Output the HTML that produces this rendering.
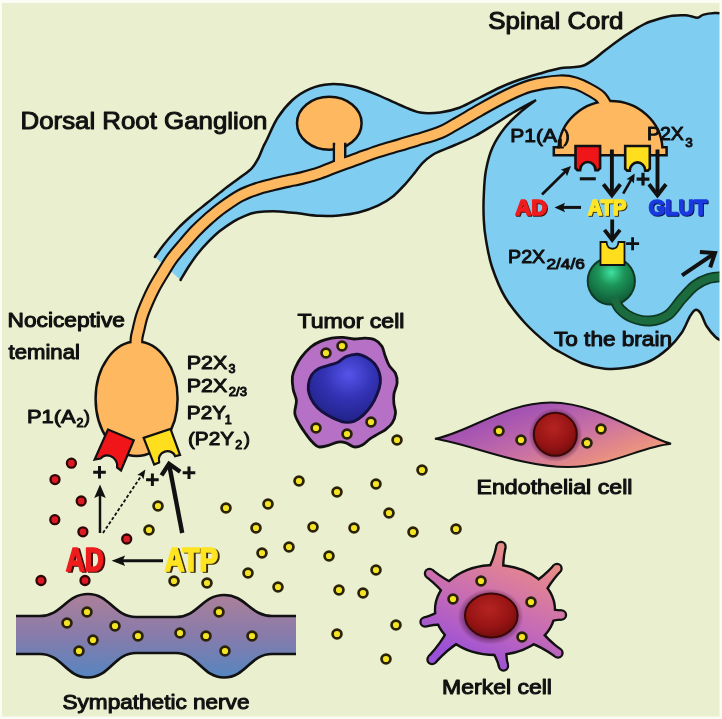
<!DOCTYPE html>
<html><head><meta charset="utf-8"><title>Purinergic signalling in pain</title>
<style>
html,body{margin:0;padding:0;background:#fbfcf3;}
body{width:722px;height:719px;overflow:hidden;position:relative;font-family:"Liberation Sans",Arial,sans-serif;}
svg{position:absolute;left:0;top:0;display:block;filter:blur(0.55px);}
</style></head><body>
<svg width="722" height="719" viewBox="0 0 722 719">
<rect x="0" y="0" width="722" height="719" fill="#e9efcf"/>
<path d="M722.0,13.5 C720.8,13.4 717.9,12.8 714.8,13.0 C711.7,13.2 706.5,13.8 703.6,14.6 C700.7,15.4 699.6,17.5 697.5,17.8 C695.4,18.1 693.0,16.6 691.0,16.2 C689.0,15.8 688.7,15.4 685.6,15.3 C682.5,15.2 676.7,15.1 672.2,15.7 C667.7,16.3 663.2,17.7 658.7,19.0 C654.2,20.3 649.8,21.5 645.3,23.6 C640.8,25.7 636.3,28.6 631.8,31.4 C627.3,34.2 622.8,37.2 618.3,40.4 C613.8,43.6 609.0,47.3 604.9,50.5 C600.8,53.7 597.4,57.0 593.7,59.5 C590.1,62.0 586.6,64.5 583.0,65.8 C579.4,67.1 575.8,66.9 572.0,67.3 C568.2,67.7 565.3,67.3 560.0,68.3 C554.7,69.3 546.7,71.6 540.0,73.5 C533.3,75.4 526.7,77.2 520.0,79.5 C513.3,81.8 506.7,84.5 500.0,87.5 C493.3,90.5 486.7,94.2 480.0,97.5 C473.3,100.8 466.7,105.0 460.0,107.5 C453.3,110.0 446.7,111.7 440.0,112.5 C433.3,113.3 426.7,113.8 420.0,112.5 C413.3,111.2 407.5,108.1 400.0,105.0 C392.5,101.9 382.9,96.9 375.0,93.8 C367.1,90.6 360.0,87.8 352.5,86.2 C345.0,84.7 337.1,83.8 330.0,84.2 C322.9,84.7 316.2,86.1 310.0,88.8 C303.8,91.4 297.9,95.1 292.5,100.0 C287.1,104.9 281.8,111.3 277.5,118.0 C273.2,124.7 269.1,135.2 266.7,140.0 C264.3,144.8 264.7,143.6 263.3,146.7 C261.9,149.8 260.2,154.7 258.3,158.3 C256.4,161.9 254.8,165.1 251.7,168.3 C248.6,171.5 244.7,173.9 240.0,177.5 C235.3,181.1 228.9,185.7 223.3,190.0 C217.8,194.3 212.0,199.1 206.7,203.3 C201.4,207.6 196.5,211.3 191.7,215.5 C186.9,219.7 182.4,223.7 177.8,228.5 C173.2,233.3 167.7,239.8 163.9,244.5 C160.1,249.2 156.4,254.9 154.9,257.0 L180.6,280.0 C181.8,278.0 184.8,272.5 187.6,268.2 C190.4,263.9 193.8,258.6 197.3,254.2 C200.8,249.8 204.7,245.5 208.4,241.7 C212.1,237.9 215.3,234.7 219.5,231.3 C223.7,228.0 229.2,224.2 233.4,221.6 C237.7,219.0 241.1,217.4 245.0,215.8 C248.9,214.2 252.0,213.1 256.7,212.3 C261.4,211.6 267.8,211.3 273.3,211.3 C278.9,211.3 285.6,212.1 290.0,212.5 C294.4,212.9 295.1,212.9 300.0,213.5 C304.9,214.1 313.0,215.5 319.5,215.8 C326.0,216.1 332.4,216.0 338.9,215.4 C345.4,214.8 351.9,214.1 358.4,212.5 C364.9,210.9 372.0,208.5 377.9,205.7 C383.8,202.9 389.0,199.5 393.5,195.9 C398.0,192.3 401.5,188.2 405.1,184.3 C408.7,180.4 412.0,176.2 414.9,172.6 C417.8,169.0 419.8,165.7 422.7,162.8 C425.6,159.9 429.5,156.9 432.4,155.0 C435.3,153.1 436.2,152.9 440.0,151.2 C443.8,149.5 449.2,147.5 455.0,145.0 C460.8,142.5 468.3,139.5 475.0,136.0 C481.7,132.5 488.3,128.1 495.0,124.0 C501.7,119.9 508.2,115.5 515.0,111.5 C521.8,107.5 532.5,101.9 536.0,100.0 C533.3,102.1 525.2,107.9 520.0,112.5 C514.8,117.1 509.6,121.7 505.0,127.5 C500.4,133.3 495.7,140.4 492.5,147.5 C489.3,154.6 487.5,162.1 486.0,170.0 C484.5,177.9 484.1,186.7 483.8,195.0 C483.4,203.3 483.4,212.5 483.8,220.0 C484.1,227.5 484.6,232.2 486.0,240.0 C487.4,247.8 488.8,257.5 492.0,267.0 C495.2,276.5 499.5,287.7 505.0,297.0 C510.5,306.3 517.7,315.0 525.0,323.0 C532.3,331.0 543.2,340.2 549.0,345.0 C554.8,349.8 554.4,348.9 560.0,352.0 C565.6,355.1 575.0,360.7 582.5,363.5 C590.0,366.3 597.5,368.0 605.0,368.7 C612.5,369.4 620.1,368.9 627.6,367.6 C635.1,366.3 643.3,364.2 650.0,361.0 C656.7,357.8 662.7,353.2 668.0,348.5 C673.3,343.8 678.1,337.9 681.7,332.7 C685.3,327.4 687.4,320.8 689.6,317.0 C691.9,313.2 693.3,310.6 695.2,310.0 C697.1,309.4 698.9,310.8 700.8,313.5 C702.7,316.2 704.0,322.1 706.5,326.0 C709.0,329.9 712.9,334.5 715.5,337.0 C718.1,339.5 720.9,340.3 722.0,341.0 L722,13 Z" fill="#80cdf2"/>
<path d="M722.0,13.5 C720.8,13.4 717.9,12.8 714.8,13.0 C711.7,13.2 706.5,13.8 703.6,14.6 C700.7,15.4 699.6,17.5 697.5,17.8 C695.4,18.1 693.0,16.6 691.0,16.2 C689.0,15.8 688.7,15.4 685.6,15.3 C682.5,15.2 676.7,15.1 672.2,15.7 C667.7,16.3 663.2,17.7 658.7,19.0 C654.2,20.3 649.8,21.5 645.3,23.6 C640.8,25.7 636.3,28.6 631.8,31.4 C627.3,34.2 622.8,37.2 618.3,40.4 C613.8,43.6 609.0,47.3 604.9,50.5 C600.8,53.7 597.4,57.0 593.7,59.5 C590.1,62.0 586.6,64.5 583.0,65.8 C579.4,67.1 575.8,66.9 572.0,67.3 C568.2,67.7 565.3,67.3 560.0,68.3 C554.7,69.3 546.7,71.6 540.0,73.5 C533.3,75.4 526.7,77.2 520.0,79.5 C513.3,81.8 506.7,84.5 500.0,87.5 C493.3,90.5 486.7,94.2 480.0,97.5 C473.3,100.8 466.7,105.0 460.0,107.5 C453.3,110.0 446.7,111.7 440.0,112.5 C433.3,113.3 426.7,113.8 420.0,112.5 C413.3,111.2 407.5,108.1 400.0,105.0 C392.5,101.9 382.9,96.9 375.0,93.8 C367.1,90.6 360.0,87.8 352.5,86.2 C345.0,84.7 337.1,83.8 330.0,84.2 C322.9,84.7 316.2,86.1 310.0,88.8 C303.8,91.4 297.9,95.1 292.5,100.0 C287.1,104.9 281.8,111.3 277.5,118.0 C273.2,124.7 269.1,135.2 266.7,140.0 C264.3,144.8 264.7,143.6 263.3,146.7 C261.9,149.8 260.2,154.7 258.3,158.3 C256.4,161.9 254.8,165.1 251.7,168.3 C248.6,171.5 244.7,173.9 240.0,177.5 C235.3,181.1 228.9,185.7 223.3,190.0 C217.8,194.3 212.0,199.1 206.7,203.3 C201.4,207.6 196.5,211.3 191.7,215.5 C186.9,219.7 182.4,223.7 177.8,228.5 C173.2,233.3 167.7,239.8 163.9,244.5 C160.1,249.2 156.4,254.9 154.9,257.0 M180.6,280.0 C181.8,278.0 184.8,272.5 187.6,268.2 C190.4,263.9 193.8,258.6 197.3,254.2 C200.8,249.8 204.7,245.5 208.4,241.7 C212.1,237.9 215.3,234.7 219.5,231.3 C223.7,228.0 229.2,224.2 233.4,221.6 C237.7,219.0 241.1,217.4 245.0,215.8 C248.9,214.2 252.0,213.1 256.7,212.3 C261.4,211.6 267.8,211.3 273.3,211.3 C278.9,211.3 285.6,212.1 290.0,212.5 C294.4,212.9 295.1,212.9 300.0,213.5 C304.9,214.1 313.0,215.5 319.5,215.8 C326.0,216.1 332.4,216.0 338.9,215.4 C345.4,214.8 351.9,214.1 358.4,212.5 C364.9,210.9 372.0,208.5 377.9,205.7 C383.8,202.9 389.0,199.5 393.5,195.9 C398.0,192.3 401.5,188.2 405.1,184.3 C408.7,180.4 412.0,176.2 414.9,172.6 C417.8,169.0 419.8,165.7 422.7,162.8 C425.6,159.9 429.5,156.9 432.4,155.0 C435.3,153.1 436.2,152.9 440.0,151.2 C443.8,149.5 449.2,147.5 455.0,145.0 C460.8,142.5 468.3,139.5 475.0,136.0 C481.7,132.5 488.3,128.1 495.0,124.0 C501.7,119.9 508.2,115.5 515.0,111.5 C521.8,107.5 532.5,101.9 536.0,100.0 C533.3,102.1 525.2,107.9 520.0,112.5 C514.8,117.1 509.6,121.7 505.0,127.5 C500.4,133.3 495.7,140.4 492.5,147.5 C489.3,154.6 487.5,162.1 486.0,170.0 C484.5,177.9 484.1,186.7 483.8,195.0 C483.4,203.3 483.4,212.5 483.8,220.0 C484.1,227.5 484.6,232.2 486.0,240.0 C487.4,247.8 488.8,257.5 492.0,267.0 C495.2,276.5 499.5,287.7 505.0,297.0 C510.5,306.3 517.7,315.0 525.0,323.0 C532.3,331.0 543.2,340.2 549.0,345.0 C554.8,349.8 554.4,348.9 560.0,352.0 C565.6,355.1 575.0,360.7 582.5,363.5 C590.0,366.3 597.5,368.0 605.0,368.7 C612.5,369.4 620.1,368.9 627.6,367.6 C635.1,366.3 643.3,364.2 650.0,361.0 C656.7,357.8 662.7,353.2 668.0,348.5 C673.3,343.8 678.1,337.9 681.7,332.7 C685.3,327.4 687.4,320.8 689.6,317.0 C691.9,313.2 693.3,310.6 695.2,310.0 C697.1,309.4 698.9,310.8 700.8,313.5 C702.7,316.2 704.0,322.1 706.5,326.0 C709.0,329.9 712.9,334.5 715.5,337.0 C718.1,339.5 720.9,340.3 722.0,341.0" fill="none" stroke="#111" stroke-width="2.5" stroke-linejoin="miter" stroke-linecap="round"/>
<path d="M136.5,352.0 C136.5,349.8 136.2,342.8 136.5,339.0 C136.8,335.2 137.6,333.4 138.5,329.5 C139.4,325.6 140.5,320.2 142.0,315.6 C143.5,311.0 145.5,306.3 147.5,301.7 C149.5,297.1 151.5,292.7 154.0,288.0 C156.5,283.3 159.5,278.4 162.5,273.5 C165.5,268.6 168.3,263.6 172.0,258.5 C175.7,253.4 180.8,247.8 184.8,243.1 C188.8,238.4 192.0,234.6 195.9,230.6 C199.8,226.6 204.0,222.7 208.4,218.8 C212.8,215.0 217.0,211.3 222.3,207.5 C227.6,203.7 234.3,198.9 240.0,195.8 C245.7,192.7 251.1,190.8 256.7,188.9 C262.2,187.0 267.8,185.8 273.3,184.4 C278.9,183.0 285.6,181.5 290.0,180.5 C294.4,179.5 295.1,179.8 300.0,178.5 C304.9,177.2 313.0,175.2 319.5,173.0 C326.0,170.8 332.4,167.9 338.9,165.5 C345.4,163.1 351.9,160.7 358.4,158.4 C364.9,156.1 371.4,153.6 377.9,151.5 C384.4,149.4 390.9,147.6 397.4,145.7 C403.9,143.8 409.7,142.1 416.8,139.9 C423.9,137.7 433.6,135.1 440.0,132.5 C446.4,129.9 448.3,128.2 455.0,124.5 C461.7,120.8 471.7,114.7 480.0,110.0 C488.3,105.3 496.7,100.5 505.0,96.5 C513.3,92.5 520.8,88.5 530.0,86.0 C539.2,83.5 552.3,81.7 560.0,81.3 C567.7,80.9 571.0,82.0 576.0,83.5 C581.0,85.0 585.9,87.8 590.0,90.0 C594.1,92.2 597.7,94.2 600.5,97.0 C603.3,99.8 605.9,105.3 607.0,107.0" fill="none" stroke="#111" stroke-width="13.8"/>
<ellipse cx="329.3" cy="123.3" rx="32.3" ry="26.5" fill="#fdb860" stroke="#111" stroke-width="2.5"/>
<rect x="334" y="144" width="11.2" height="20" fill="#fdb860" stroke="#111" stroke-width="2.5"/>
<path d="M553.8,147.2 L558.6,147.2 A52,49.2 0 0 1 662.4,147.2 L666.6,147.2 L666.6,155.2 L553.8,155.2 Z" fill="#fdb860" stroke="#111" stroke-width="2.5" stroke-linejoin="miter"/>
<ellipse cx="136.6" cy="398.8" rx="41" ry="57.2" fill="#fdb860" stroke="#111" stroke-width="2.5"/>
<path d="M136.5,352.0 C136.5,349.8 136.2,342.8 136.5,339.0 C136.8,335.2 137.6,333.4 138.5,329.5 C139.4,325.6 140.5,320.2 142.0,315.6 C143.5,311.0 145.5,306.3 147.5,301.7 C149.5,297.1 151.5,292.7 154.0,288.0 C156.5,283.3 159.5,278.4 162.5,273.5 C165.5,268.6 168.3,263.6 172.0,258.5 C175.7,253.4 180.8,247.8 184.8,243.1 C188.8,238.4 192.0,234.6 195.9,230.6 C199.8,226.6 204.0,222.7 208.4,218.8 C212.8,215.0 217.0,211.3 222.3,207.5 C227.6,203.7 234.3,198.9 240.0,195.8 C245.7,192.7 251.1,190.8 256.7,188.9 C262.2,187.0 267.8,185.8 273.3,184.4 C278.9,183.0 285.6,181.5 290.0,180.5 C294.4,179.5 295.1,179.8 300.0,178.5 C304.9,177.2 313.0,175.2 319.5,173.0 C326.0,170.8 332.4,167.9 338.9,165.5 C345.4,163.1 351.9,160.7 358.4,158.4 C364.9,156.1 371.4,153.6 377.9,151.5 C384.4,149.4 390.9,147.6 397.4,145.7 C403.9,143.8 409.7,142.1 416.8,139.9 C423.9,137.7 433.6,135.1 440.0,132.5 C446.4,129.9 448.3,128.2 455.0,124.5 C461.7,120.8 471.7,114.7 480.0,110.0 C488.3,105.3 496.7,100.5 505.0,96.5 C513.3,92.5 520.8,88.5 530.0,86.0 C539.2,83.5 552.3,81.7 560.0,81.3 C567.7,80.9 571.0,82.0 576.0,83.5 C581.0,85.0 585.9,87.8 590.0,90.0 C594.1,92.2 597.7,94.2 600.5,97.0 C603.3,99.8 605.9,105.3 607.0,107.0" fill="none" stroke="#fdb860" stroke-width="9.5"/>
<rect x="335.2" y="142" width="8.8" height="26" fill="#fdb860"/>
<path d="M0,0 L24.6,0 L24.6,22.2 L22.6,24.2 L20,24.2 A7.7,8.2 0 0 0 4.6,24.2 L2,24.2 L0,22.2 Z" fill="#f01519" stroke="#111" stroke-width="2.6" stroke-linejoin="miter" transform="translate(575.5,146)"/>
<path d="M0,0 L24.6,0 L24.6,22.6 L22.6,24.6 L20,24.6 A7.7,8.2 0 0 0 4.6,24.6 L2,24.6 L0,22.6 Z" fill="#ffde1e" stroke="#111" stroke-width="2.6" stroke-linejoin="miter" transform="translate(625.2,146)"/>
<path d="M0,0 L28,0 L27.7,32.8 L23,31.6 C22.3,27.5 18,23.4 12.4,23.5 C8,23.6 5.2,26.2 4.2,29.6 L-0.9,32.7 Z" fill="#f01519" stroke="#111" stroke-width="2.2" stroke-linejoin="miter" transform="translate(107.9,429.6) rotate(22.4)"/>
<path d="M0,0 L28.3,0 L29.2,27.6 L24.1,27.3 A8.4,7.6 0 0 0 7.3,27.3 L6.9,28.3 L1.6,28.7 Z" fill="#ffde1e" stroke="#111" stroke-width="2.2" stroke-linejoin="miter" transform="translate(143.65,437.85) rotate(-18.3)"/>
<defs><radialGradient id="gg" cx="0.5" cy="0.32" r="0.62"><stop offset="0" stop-color="#3fe0a0"/><stop offset="0.45" stop-color="#1c9458"/><stop offset="1" stop-color="#11603a"/></radialGradient></defs>
<path d="M614.0,298.0 C615.0,299.8 617.0,305.8 620.0,309.0 C623.0,312.2 627.0,315.5 632.0,317.5 C637.0,319.5 644.0,321.4 650.0,321.0 C656.0,320.6 662.7,318.7 668.0,315.0 C673.3,311.3 677.2,303.9 681.7,299.0 C686.2,294.1 690.5,288.9 695.0,285.5 C699.5,282.1 703.9,280.0 708.7,278.5 C713.5,277.0 721.5,276.8 724.0,276.5" fill="none" stroke="#0d3a22" stroke-width="11"/>
<circle cx="611.3" cy="281" r="23.6" fill="url(#gg)" stroke="#0d3a22" stroke-width="2"/>
<path d="M614.0,298.0 C615.0,299.8 617.0,305.8 620.0,309.0 C623.0,312.2 627.0,315.5 632.0,317.5 C637.0,319.5 644.0,321.4 650.0,321.0 C656.0,320.6 662.7,318.7 668.0,315.0 C673.3,311.3 677.2,303.9 681.7,299.0 C686.2,294.1 690.5,288.9 695.0,285.5 C699.5,282.1 703.9,280.0 708.7,278.5 C713.5,277.0 721.5,276.8 724.0,276.5" fill="none" stroke="#1c6b3e" stroke-width="7.5"/>
<path d="M600.5,242 L606.5,242 C607.5,251 617.5,251 618.5,242 L624.5,242 L624.5,265 L600.5,265 Z" fill="#ffde1e" stroke="#111" stroke-width="1.8"/>
<defs><linearGradient id="ng" x1="0" y1="0" x2="0" y2="1"><stop offset="0" stop-color="#ad8099"/><stop offset="0.5" stop-color="#877bab"/><stop offset="1" stop-color="#5586c0"/></linearGradient></defs>
<path d="M16,616 L40,616 C62,616 66,594 88,594 C110,594 114,617 136,617 L176,617 C198,617 202,595 224,595 C246,595 250,616 272,616 L296,616 L296,654 L272,654 C250,654 246,677.5 224,677.5 C202,677.5 198,653 176,653 L136,653 C114,653 110,677.5 88,677.5 C66,677.5 62,654 40,654 L16,654 Z" fill="url(#ng)" stroke="none"/>
<path d="M16,616 L40,616 C62,616 66,594 88,594 C110,594 114,617 136,617 L176,617 C198,617 202,595 224,595 C246,595 250,616 272,616 L296,616 M296,654 L272,654 C250,654 246,677.5 224,677.5 C202,677.5 198,653 176,653 L136,653 C114,653 110,677.5 88,677.5 C66,677.5 62,654 40,654 L16,654" fill="none" stroke="#111" stroke-width="2.7"/>
<path d="M310.8,347.0 C314.0,344.3 316.9,342.9 320.4,341.4 C323.9,339.9 327.9,338.9 331.6,338.2 C335.3,337.5 339.1,337.3 342.8,337.4 C346.5,337.5 350.2,338.9 353.9,339.0 C357.6,339.1 361.6,338.1 365.1,338.2 C368.6,338.3 371.9,338.5 374.7,339.8 C377.5,341.1 380.2,343.5 381.9,346.2 C383.6,348.9 383.9,352.6 385.1,355.8 C386.3,359.0 387.4,362.5 389.1,365.4 C390.8,368.3 394.2,370.5 395.5,373.4 C396.8,376.3 397.4,379.5 397.1,383.0 C396.8,386.5 394.4,390.8 393.9,394.2 C393.4,397.6 393.6,400.5 393.9,403.7 C394.2,406.9 395.8,410.1 395.5,413.3 C395.2,416.5 393.9,420.2 392.3,422.9 C390.7,425.6 388.3,427.4 385.9,429.3 C383.5,431.2 380.6,432.5 377.9,434.1 C375.2,435.7 372.6,437.0 369.9,438.9 C367.2,440.8 364.6,444.0 361.9,445.3 C359.2,446.6 356.5,447.3 353.9,446.9 C351.2,446.5 348.6,443.7 346.0,442.9 C343.4,442.1 340.9,441.7 338.0,442.1 C335.1,442.5 331.6,444.5 328.4,445.3 C325.2,446.1 321.5,447.4 318.8,446.9 C316.1,446.4 314.5,444.2 312.4,442.1 C310.3,440.0 308.1,437.0 306.0,434.1 C303.9,431.2 301.5,428.0 299.6,424.5 C297.7,421.0 295.3,417.3 294.8,413.3 C294.3,409.3 296.7,404.5 296.4,400.5 C296.1,396.5 293.9,393.4 293.2,389.4 C292.5,385.4 292.0,380.3 292.4,376.6 C292.8,372.9 294.1,370.2 295.6,367.0 C297.1,363.8 298.7,360.7 301.2,357.4 C303.7,354.1 307.6,349.7 310.8,347.0 Z" fill="#b670c5" stroke="#111" stroke-width="2.8"/>
<defs><radialGradient id="tg" cx="0.56" cy="0.3" r="0.7"><stop offset="0" stop-color="#5454ea"/><stop offset="0.5" stop-color="#3232b4"/><stop offset="1" stop-color="#222288"/></radialGradient></defs>
<path d="M357.1,354.2 C360.6,354.3 363.8,355.8 366.7,357.4 C369.6,359.0 372.6,361.1 374.7,363.8 C376.8,366.5 378.6,370.2 379.5,373.4 C380.4,376.6 380.7,379.5 380.3,383.0 C379.9,386.5 378.6,390.5 377.1,394.2 C375.6,397.9 373.8,401.9 371.5,405.3 C369.2,408.8 366.4,412.2 363.5,414.9 C360.6,417.6 357.1,420.1 353.9,421.3 C350.7,422.5 347.8,422.6 344.4,422.1 C340.9,421.6 336.9,419.8 333.2,418.1 C329.5,416.4 325.2,414.1 322.0,411.7 C318.8,409.3 316.1,406.6 314.0,403.7 C311.9,400.8 310.1,397.4 309.2,394.2 C308.3,391.0 308.0,387.8 308.4,384.6 C308.8,381.4 309.9,377.7 311.6,375.0 C313.3,372.3 316.0,370.2 318.8,368.6 C321.6,367.0 325.2,366.5 328.4,365.4 C331.6,364.3 335.1,363.7 338.0,362.2 C340.9,360.7 342.8,357.9 346.0,356.6 C349.2,355.3 353.7,354.1 357.1,354.2 Z" fill="url(#tg)" stroke="#14103f" stroke-width="2.9"/>
<defs><linearGradient id="eg" gradientUnits="userSpaceOnUse" x1="536.2" y1="390.1" x2="572.2" y2="486.4"><stop offset="0" stop-color="#9c4cb0"/><stop offset="0.18" stop-color="#a856b2"/><stop offset="0.5" stop-color="#c66ea6"/><stop offset="0.8" stop-color="#e48a86"/><stop offset="1" stop-color="#f0a07c"/></linearGradient><radialGradient id="halo"><stop offset="0.7" stop-color="#401030" stop-opacity="0.7"/><stop offset="1" stop-color="#401030" stop-opacity="0"/></radialGradient><radialGradient id="rg" cx="0.45" cy="0.35" r="0.7"><stop offset="0" stop-color="#b42420"/><stop offset="0.6" stop-color="#971414"/><stop offset="1" stop-color="#6c0c0c"/></radialGradient></defs>
<path d="M435,438.8 C470,432 505,402.5 551,402.5 C597,402.5 640,435 671,443.8 C640,447 610,467 568,467 C520,467 470,444 435,438.8 Z" fill="url(#eg)" stroke="#111" stroke-width="2"/>
<circle cx="555.5" cy="435" r="27" fill="url(#halo)"/><circle cx="555.3" cy="434.3" r="21.5" fill="url(#rg)" stroke="#3a0808" stroke-width="2"/>
<defs><linearGradient id="mg" gradientUnits="userSpaceOnUse" x1="520" y1="556" x2="474" y2="664"><stop offset="0" stop-color="#e88a8a"/><stop offset="0.5" stop-color="#c86cb4"/><stop offset="1" stop-color="#9a50d8"/></linearGradient></defs>
<path d="M505.0,574.9 Q503.4,562.7 506.6,547.7 L495.4,545.3 Q492.3,560.4 485.9,570.9 Z" fill="#111"/><circle cx="501.0" cy="546.5" r="5.70" fill="#111"/>
<path d="M544.8,596.3 Q550.0,584.6 561.2,572.3 L552.8,564.7 Q541.6,576.9 530.4,583.1 Z" fill="#111"/><circle cx="557.0" cy="568.5" r="5.70" fill="#111"/>
<path d="M545.0,624.8 Q553.5,620.7 561.5,620.7 L561.5,609.3 Q553.5,609.3 545.0,605.2 Z" fill="#111"/><circle cx="561.5" cy="615.0" r="5.70" fill="#111"/>
<path d="M529.2,643.9 Q541.3,647.8 554.6,657.6 L561.4,648.4 Q548.1,638.6 540.8,628.2 Z" fill="#111"/><circle cx="558.0" cy="653.0" r="5.70" fill="#111"/>
<path d="M489.3,649.5 Q495.5,657.6 498.0,667.4 L509.0,664.6 Q506.6,654.8 508.2,644.8 Z" fill="#111"/><circle cx="503.5" cy="666.0" r="5.70" fill="#111"/>
<path d="M446.2,629.7 Q440.4,642.0 427.8,655.6 L436.2,663.4 Q448.8,649.7 460.6,642.9 Z" fill="#111"/><circle cx="432.0" cy="659.5" r="5.70" fill="#111"/>
<path d="M442.3,607.3 Q434.0,613.7 423.5,616.5 L426.5,627.5 Q437.0,624.7 447.3,626.1 Z" fill="#111"/><circle cx="425.0" cy="622.0" r="5.70" fill="#111"/>
<path d="M459.0,584.5 Q446.7,579.9 433.0,569.0 L426.0,578.0 Q439.6,588.8 446.8,599.7 Z" fill="#111"/><circle cx="429.5" cy="573.5" r="5.70" fill="#111"/>
<ellipse cx="495" cy="610" rx="60" ry="45" fill="url(#mg)" stroke="#111" stroke-width="2.4"/>
<path d="M502.3,574.3 Q501.2,562.2 504.3,547.2 L497.7,545.8 Q494.5,560.9 488.6,571.5 Z" fill="url(#mg)"/><circle cx="501.0" cy="546.5" r="3.40" fill="url(#mg)"/>
<path d="M542.8,594.4 Q548.3,583.0 559.5,570.8 L554.5,566.2 Q543.3,578.5 532.5,585.0 Z" fill="url(#mg)"/><circle cx="557.0" cy="568.5" r="3.40" fill="url(#mg)"/>
<path d="M545.0,622.0 Q553.5,618.4 561.5,618.4 L561.5,611.6 Q553.5,611.6 545.0,608.0 Z" fill="url(#mg)"/><circle cx="561.5" cy="615.0" r="3.40" fill="url(#mg)"/>
<path d="M530.8,641.7 Q542.7,645.9 556.0,655.7 L560.0,650.3 Q546.7,640.5 539.1,630.4 Z" fill="url(#mg)"/><circle cx="558.0" cy="653.0" r="3.40" fill="url(#mg)"/>
<path d="M492.0,648.8 Q497.8,657.0 500.2,666.8 L506.8,665.2 Q504.3,655.4 505.6,645.5 Z" fill="url(#mg)"/><circle cx="503.5" cy="666.0" r="3.40" fill="url(#mg)"/>
<path d="M448.2,631.6 Q442.1,643.5 429.5,657.2 L434.5,661.8 Q447.1,648.2 458.5,641.1 Z" fill="url(#mg)"/><circle cx="432.0" cy="659.5" r="3.40" fill="url(#mg)"/>
<path d="M443.0,609.9 Q434.6,615.9 424.1,618.7 L425.9,625.3 Q436.4,622.5 446.6,623.5 Z" fill="url(#mg)"/><circle cx="425.0" cy="622.0" r="3.40" fill="url(#mg)"/>
<path d="M457.3,586.6 Q445.3,581.7 431.6,570.8 L427.4,576.2 Q441.0,587.0 448.6,597.6 Z" fill="url(#mg)"/><circle cx="429.5" cy="573.5" r="3.40" fill="url(#mg)"/>
<defs><linearGradient id="mg2" gradientUnits="userSpaceOnUse" x1="500" y1="545" x2="485" y2="665"><stop offset="0" stop-color="#e88a8a"/><stop offset="0.5" stop-color="#c86cb4"/><stop offset="1" stop-color="#9a50d8"/></linearGradient></defs>
<ellipse cx="490.5" cy="616.5" rx="33" ry="28" fill="url(#halo)"/><ellipse cx="491.3" cy="615.5" rx="26.3" ry="22" fill="url(#rg)" stroke="#3a0808" stroke-width="2"/>
<circle cx="326" cy="353" r="4.45" fill="#f4e424" stroke="#2a2206" stroke-width="2.7"/>
<circle cx="342" cy="346" r="4.45" fill="#f4e424" stroke="#2a2206" stroke-width="2.7"/>
<circle cx="316" cy="428" r="4.45" fill="#f4e424" stroke="#2a2206" stroke-width="2.7"/>
<circle cx="347" cy="434" r="4.45" fill="#f4e424" stroke="#2a2206" stroke-width="2.7"/>
<circle cx="371" cy="422" r="4.45" fill="#f4e424" stroke="#2a2206" stroke-width="2.7"/>
<circle cx="397" cy="440" r="4.45" fill="#f4e424" stroke="#2a2206" stroke-width="2.7"/>
<circle cx="422" cy="470" r="4.45" fill="#f4e424" stroke="#2a2206" stroke-width="2.7"/>
<circle cx="158" cy="506" r="4.45" fill="#f4e424" stroke="#2a2206" stroke-width="2.7"/>
<circle cx="226" cy="508" r="4.45" fill="#f4e424" stroke="#2a2206" stroke-width="2.7"/>
<circle cx="149" cy="530" r="4.45" fill="#f4e424" stroke="#2a2206" stroke-width="2.7"/>
<circle cx="174" cy="581" r="4.45" fill="#f4e424" stroke="#2a2206" stroke-width="2.7"/>
<circle cx="207" cy="583" r="4.45" fill="#f4e424" stroke="#2a2206" stroke-width="2.7"/>
<circle cx="87" cy="612" r="4.45" fill="#f4e424" stroke="#2a2206" stroke-width="2.7"/>
<circle cx="67" cy="623" r="4.45" fill="#f4e424" stroke="#2a2206" stroke-width="2.7"/>
<circle cx="115" cy="626" r="4.45" fill="#f4e424" stroke="#2a2206" stroke-width="2.7"/>
<circle cx="138" cy="636" r="4.45" fill="#f4e424" stroke="#2a2206" stroke-width="2.7"/>
<circle cx="93" cy="640" r="4.45" fill="#f4e424" stroke="#2a2206" stroke-width="2.7"/>
<circle cx="79" cy="651" r="4.45" fill="#f4e424" stroke="#2a2206" stroke-width="2.7"/>
<circle cx="180" cy="633" r="4.45" fill="#f4e424" stroke="#2a2206" stroke-width="2.7"/>
<circle cx="206" cy="636" r="4.45" fill="#f4e424" stroke="#2a2206" stroke-width="2.7"/>
<circle cx="219" cy="612" r="4.45" fill="#f4e424" stroke="#2a2206" stroke-width="2.7"/>
<circle cx="225" cy="651" r="4.45" fill="#f4e424" stroke="#2a2206" stroke-width="2.7"/>
<circle cx="252" cy="636" r="4.45" fill="#f4e424" stroke="#2a2206" stroke-width="2.7"/>
<circle cx="299" cy="481" r="4.45" fill="#f4e424" stroke="#2a2206" stroke-width="2.7"/>
<circle cx="337" cy="492" r="4.45" fill="#f4e424" stroke="#2a2206" stroke-width="2.7"/>
<circle cx="376" cy="484" r="4.45" fill="#f4e424" stroke="#2a2206" stroke-width="2.7"/>
<circle cx="268" cy="504" r="4.45" fill="#f4e424" stroke="#2a2206" stroke-width="2.7"/>
<circle cx="389" cy="513" r="4.45" fill="#f4e424" stroke="#2a2206" stroke-width="2.7"/>
<circle cx="256" cy="528" r="4.45" fill="#f4e424" stroke="#2a2206" stroke-width="2.7"/>
<circle cx="313" cy="527" r="4.45" fill="#f4e424" stroke="#2a2206" stroke-width="2.7"/>
<circle cx="354" cy="528" r="4.45" fill="#f4e424" stroke="#2a2206" stroke-width="2.7"/>
<circle cx="413" cy="532" r="4.45" fill="#f4e424" stroke="#2a2206" stroke-width="2.7"/>
<circle cx="456" cy="529" r="4.45" fill="#f4e424" stroke="#2a2206" stroke-width="2.7"/>
<circle cx="289" cy="547" r="4.45" fill="#f4e424" stroke="#2a2206" stroke-width="2.7"/>
<circle cx="262" cy="553" r="4.45" fill="#f4e424" stroke="#2a2206" stroke-width="2.7"/>
<circle cx="329" cy="556" r="4.45" fill="#f4e424" stroke="#2a2206" stroke-width="2.7"/>
<circle cx="248" cy="573" r="4.45" fill="#f4e424" stroke="#2a2206" stroke-width="2.7"/>
<circle cx="376" cy="570" r="4.45" fill="#f4e424" stroke="#2a2206" stroke-width="2.7"/>
<circle cx="278" cy="587" r="4.45" fill="#f4e424" stroke="#2a2206" stroke-width="2.7"/>
<circle cx="339" cy="590" r="4.45" fill="#f4e424" stroke="#2a2206" stroke-width="2.7"/>
<circle cx="363" cy="593" r="4.45" fill="#f4e424" stroke="#2a2206" stroke-width="2.7"/>
<circle cx="396" cy="625" r="4.45" fill="#f4e424" stroke="#2a2206" stroke-width="2.7"/>
<circle cx="337" cy="634" r="4.45" fill="#f4e424" stroke="#2a2206" stroke-width="2.7"/>
<circle cx="386" cy="659" r="4.45" fill="#f4e424" stroke="#2a2206" stroke-width="2.7"/>
<circle cx="453" cy="599" r="4.45" fill="#f4e424" stroke="#2a2206" stroke-width="2.7"/>
<circle cx="481" cy="581" r="4.45" fill="#f4e424" stroke="#2a2206" stroke-width="2.7"/>
<circle cx="531" cy="602" r="4.45" fill="#f4e424" stroke="#2a2206" stroke-width="2.7"/>
<circle cx="522" cy="637" r="4.45" fill="#f4e424" stroke="#2a2206" stroke-width="2.7"/>
<circle cx="499" cy="431" r="4.45" fill="#f4e424" stroke="#2a2206" stroke-width="2.7"/>
<circle cx="521" cy="440" r="4.45" fill="#f4e424" stroke="#2a2206" stroke-width="2.7"/>
<circle cx="601" cy="429" r="4.45" fill="#f4e424" stroke="#2a2206" stroke-width="2.7"/>
<circle cx="587" cy="443" r="4.45" fill="#f4e424" stroke="#2a2206" stroke-width="2.7"/>
<circle cx="55" cy="479.6" r="4.5" fill="#dc1a24" stroke="#2e0606" stroke-width="2.3"/>
<circle cx="81.2" cy="501" r="4.5" fill="#dc1a24" stroke="#2e0606" stroke-width="2.3"/>
<circle cx="54.8" cy="519.7" r="4.5" fill="#dc1a24" stroke="#2e0606" stroke-width="2.3"/>
<circle cx="82.9" cy="531.8" r="4.5" fill="#dc1a24" stroke="#2e0606" stroke-width="2.3"/>
<circle cx="126.7" cy="539" r="4.5" fill="#dc1a24" stroke="#2e0606" stroke-width="2.3"/>
<circle cx="41" cy="580.5" r="4.5" fill="#dc1a24" stroke="#2e0606" stroke-width="2.3"/>
<circle cx="85" cy="580.5" r="4.5" fill="#dc1a24" stroke="#2e0606" stroke-width="2.3"/>
<circle cx="71.4" cy="463.2" r="4.5" fill="#dc1a24" stroke="#2e0606" stroke-width="2.3"/>
<line x1="611.9" y1="149.5" x2="611.9" y2="195.2" stroke="#111" stroke-width="3.9"/><polyline points="603.4,184.2 611.9,195.2 620.4,184.2" fill="none" stroke="#111" stroke-width="3.9" stroke-linejoin="miter"/>
<line x1="657.5" y1="149.5" x2="657.5" y2="195.2" stroke="#111" stroke-width="3.9"/><polyline points="649.0,184.2 657.5,195.2 666.0,184.2" fill="none" stroke="#111" stroke-width="3.9" stroke-linejoin="miter"/>
<line x1="612.2" y1="219.5" x2="612.2" y2="239.8" stroke="#111" stroke-width="3.8"/><polyline points="604.5,229.8 612.2,239.8 620.0,229.8" fill="none" stroke="#111" stroke-width="3.8" stroke-linejoin="miter"/>
<line x1="542.0" y1="194.5" x2="565.9" y2="171.0" stroke="#111" stroke-width="2.7"/><polygon points="571.0,166.0 567.0,176.2 565.2,171.7 560.7,169.8" fill="#111"/>
<line x1="623.2" y1="193.7" x2="631.5" y2="179.1" stroke="#111" stroke-width="2.6"/><polygon points="634.7,173.6 633.9,183.5 631.0,180.0 626.5,179.3" fill="#111"/>
<line x1="581.0" y1="207.4" x2="562.1" y2="207.4" stroke="#111" stroke-width="3"/><polygon points="554.5,207.4 565.0,202.7 563.1,207.4 565.0,212.2" fill="#111"/>
<line x1="682.0" y1="275.3" x2="715.0" y2="253.0" stroke="#111" stroke-width="4"/><polyline points="710.2,267.4 715.0,253.0 699.9,252.1" fill="none" stroke="#111" stroke-width="4" stroke-linejoin="miter"/>
<line x1="100.0" y1="533.0" x2="100.0" y2="494.5" stroke="#111" stroke-width="2.5"/><polygon points="100.0,484.4 105.8,497.9 100.0,495.5 94.2,497.9" fill="#111"/>
<line x1="103.0" y1="533.0" x2="141.9" y2="474.9" stroke="#111" stroke-width="1.8" stroke-dasharray="3.2 2.1"/><polygon points="145.4,469.6 143.5,479.2 141.3,475.7 137.3,475.0" fill="#111"/>
<line x1="163.0" y1="560.8" x2="121.7" y2="560.8" stroke="#111" stroke-width="2.9"/><polygon points="111.6,560.8 125.1,555.5 122.7,560.8 125.1,566.0" fill="#111"/>
<line x1="182.2" y1="533.0" x2="169.0" y2="463.8" stroke="#111" stroke-width="4.4"/><polyline points="180.2,471.8 169.0,463.8 161.5,475.4" fill="none" stroke="#111" stroke-width="4.4" stroke-linejoin="miter"/>
<g font-family="'Liberation Sans', Arial, sans-serif" fill="#111" stroke="#111" stroke-linejoin="round">
<text x="488.32" y="29.40" font-size="23.4" textLength="135.15" lengthAdjust="spacingAndGlyphs" stroke-width="1.05">Spinal Cord</text>
<text x="20.52" y="128.50" font-size="23.8" textLength="246.95" lengthAdjust="spacingAndGlyphs" stroke-width="1.05">Dorsal Root Ganglion</text>
<text x="7.53" y="327.30" font-size="20.3" textLength="117.35" lengthAdjust="spacingAndGlyphs" stroke-width="1.05">Nociceptive</text>
<text x="8.53" y="359.30" font-size="20.3" textLength="71.35" lengthAdjust="spacingAndGlyphs" stroke-width="1.05">teminal</text>
<text x="297.52" y="327.50" font-size="20.3" textLength="106.95" lengthAdjust="spacingAndGlyphs" stroke-width="1.05">Tumor cell</text>
<text x="476.52" y="494.00" font-size="20.5" textLength="155.95" lengthAdjust="spacingAndGlyphs" stroke-width="1.05">Endothelial cell</text>
<text x="442.07" y="693.75" font-size="20.5" textLength="109.85" lengthAdjust="spacingAndGlyphs" stroke-width="1.05">Merkel cell</text>
<text x="62.52" y="709.30" font-size="20.5" textLength="186.95" lengthAdjust="spacingAndGlyphs" stroke-width="1.05">Sympathetic nerve</text>
<text x="554.02" y="345.80" font-size="20.3" textLength="117.95" lengthAdjust="spacingAndGlyphs" stroke-width="1.05">To the brain</text>
<text stroke-width="1"><tspan x="27.00" y="423.25" font-size="18.8" textLength="48.75" lengthAdjust="spacingAndGlyphs">P1(A</tspan><tspan x="80.00" y="427.30" font-size="12.5" text-anchor="middle">2</tspan><tspan x="86.85" y="423.25" font-size="18.8" text-anchor="middle">)</tspan></text>
<text stroke-width="1"><tspan x="186.80" y="368.50" font-size="18.8" textLength="40.60" lengthAdjust="spacingAndGlyphs">P2X</tspan><tspan x="232.00" y="372.50" font-size="12.5" text-anchor="middle">3</tspan></text>
<text stroke-width="1"><tspan x="186.80" y="392.30" font-size="18.8" textLength="40.60" lengthAdjust="spacingAndGlyphs">P2X</tspan><tspan x="228.80" y="396.30" font-size="12.5" textLength="18.20" lengthAdjust="spacingAndGlyphs">2/3</tspan></text>
<text stroke-width="1"><tspan x="186.80" y="419.00" font-size="18.8" textLength="39.20" lengthAdjust="spacingAndGlyphs">P2Y</tspan><tspan x="228.20" y="424.00" font-size="12.5" text-anchor="middle">1</tspan></text>
<text stroke-width="1"><tspan x="187.90" y="444.60" font-size="18.8" textLength="46.20" lengthAdjust="spacingAndGlyphs">(P2Y</tspan><tspan x="238.80" y="449.00" font-size="12.5" text-anchor="middle">2</tspan><tspan x="246.90" y="444.60" font-size="18.8" text-anchor="middle">)</tspan></text>
<text stroke-width="1"><tspan x="510.30" y="142.00" font-size="18.6" textLength="46.70" lengthAdjust="spacingAndGlyphs">P1(A</tspan><tspan x="560.50" y="147.50" font-size="12.5" text-anchor="middle">1</tspan><tspan x="566.65" y="142.00" font-size="18.6" text-anchor="middle">)</tspan></text>
<text stroke-width="1"><tspan x="647.00" y="139.60" font-size="18.6" textLength="36.80" lengthAdjust="spacingAndGlyphs">P2X</tspan><tspan x="688.95" y="146.60" font-size="13.5" text-anchor="middle">3</tspan></text>
<text stroke-width="1"><tspan x="508.00" y="262.80" font-size="18.8" textLength="37.20" lengthAdjust="spacingAndGlyphs">P2X</tspan><tspan x="546.50" y="269.40" font-size="14" textLength="38.30" lengthAdjust="spacingAndGlyphs">2/4/6</tspan></text>
</g>
<path d="M93.2,472.3 H105.8 M99.5,466 V478.6" stroke="#111" stroke-width="3" fill="none"/>
<path d="M146.1,479.7 H158.7 M152.4,473.4 V486" stroke="#111" stroke-width="3" fill="none"/>
<path d="M182.7,472.7 H195.3 M189,466.4 V479" stroke="#111" stroke-width="3" fill="none"/>
<path d="M636.6,179.2 H649.4 M643,172.8 V185.6" stroke="#111" stroke-width="3.2" fill="none"/>
<path d="M626.1,243.7 H639.1 M632.6,237.2 V250.2" stroke="#111" stroke-width="2.8" fill="none"/>
<path d="M579.8,178.8 H595.8" stroke="#111" stroke-width="3.1"/>
<defs><filter id="shR" x="-10%" y="-15%" width="125%" height="135%"><feMorphology in="SourceAlpha" operator="dilate" radius="0.25" result="d"/><feOffset in="d" dx="1.8" dy="1.2" result="o"/><feFlood flood-color="#3a0a0a"/><feComposite in2="o" operator="in" result="s"/><feMerge><feMergeNode in="s"/><feMergeNode in="SourceGraphic"/></feMerge></filter><filter id="shY" x="-10%" y="-15%" width="125%" height="135%"><feMorphology in="SourceAlpha" operator="dilate" radius="0.25" result="d"/><feOffset in="d" dx="1.8" dy="1.2" result="o"/><feFlood flood-color="#3a2c08"/><feComposite in2="o" operator="in" result="s"/><feMerge><feMergeNode in="s"/><feMergeNode in="SourceGraphic"/></feMerge></filter><filter id="shr" x="-10%" y="-15%" width="125%" height="135%"><feMorphology in="SourceAlpha" operator="dilate" radius="0.25" result="d"/><feOffset in="d" dx="1.4" dy="1" result="o"/><feFlood flood-color="#3a0a0a"/><feComposite in2="o" operator="in" result="s"/><feMerge><feMergeNode in="s"/><feMergeNode in="SourceGraphic"/></feMerge></filter><filter id="shy" x="-10%" y="-15%" width="125%" height="135%"><feMorphology in="SourceAlpha" operator="dilate" radius="0.25" result="d"/><feOffset in="d" dx="1.4" dy="1" result="o"/><feFlood flood-color="#3a2c08"/><feComposite in2="o" operator="in" result="s"/><feMerge><feMergeNode in="s"/><feMergeNode in="SourceGraphic"/></feMerge></filter><filter id="shb" x="-10%" y="-15%" width="125%" height="135%"><feMorphology in="SourceAlpha" operator="dilate" radius="0.25" result="d"/><feOffset in="d" dx="1.4" dy="1" result="o"/><feFlood flood-color="#08103a"/><feComposite in2="o" operator="in" result="s"/><feMerge><feMergeNode in="s"/><feMergeNode in="SourceGraphic"/></feMerge></filter></defs>
<text x="65.85" y="570.80" font-family="'Liberation Sans', Arial, sans-serif" font-weight="bold" font-size="33.6" stroke-linejoin="round" textLength="38.00" lengthAdjust="spacingAndGlyphs" fill="#ee1c1c" stroke="#ee1c1c" stroke-width="1.7" filter="url(#shR)">AD</text>
<text x="164.55" y="570.80" font-family="'Liberation Sans', Arial, sans-serif" font-weight="bold" font-size="33.6" stroke-linejoin="round" textLength="53.30" lengthAdjust="spacingAndGlyphs" fill="#ffe420" stroke="#ffe420" stroke-width="1.7" filter="url(#shY)">ATP</text>
<text x="515.35" y="214.60" font-family="'Liberation Sans', Arial, sans-serif" font-weight="bold" font-size="21.6" stroke-linejoin="round" textLength="31.70" lengthAdjust="spacingAndGlyphs" fill="#ee1c1c" stroke="#ee1c1c" stroke-width="1.5" filter="url(#shr)">AD</text>
<text x="587.75" y="214.80" font-family="'Liberation Sans', Arial, sans-serif" font-weight="bold" font-size="21.6" stroke-linejoin="round" textLength="38.50" lengthAdjust="spacingAndGlyphs" fill="#ffe628" stroke="#ffe628" stroke-width="1.5" filter="url(#shy)">ATP</text>
<text x="648.55" y="214.80" font-family="'Liberation Sans', Arial, sans-serif" font-weight="bold" font-size="21.6" stroke-linejoin="round" textLength="58.50" lengthAdjust="spacingAndGlyphs" fill="#1a3ae0" stroke="#1a3ae0" stroke-width="1.5" filter="url(#shb)">GLUT</text>
<path d="M0,0 H722 V719 H0 Z M2,3 V716.5 H719.5 V3 Z" fill="#fbfcf3" fill-rule="evenodd"/>
</svg>
</body></html>
